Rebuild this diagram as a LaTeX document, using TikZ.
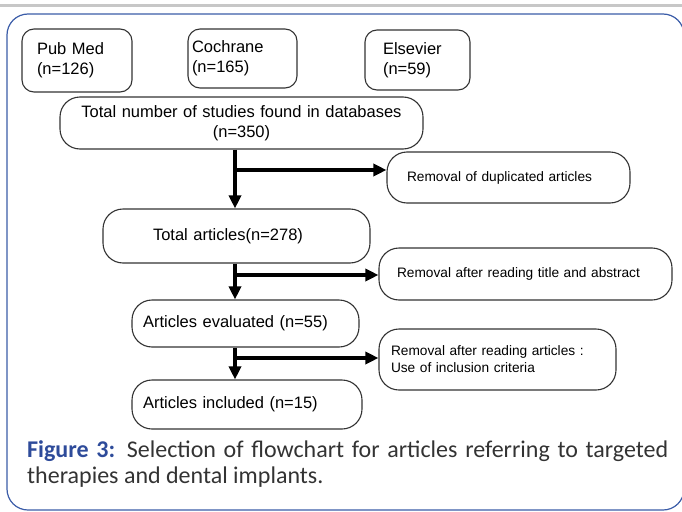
\documentclass[tikz,border=0pt]{standalone}
\usepackage{fontspec}
\setmainfont{Liberation Sans}
\newfontfamily\capfont{Carlito}
\usetikzlibrary{arrows.meta}

\definecolor{frameblue}{HTML}{3A5CA8}
\definecolor{capblue}{HTML}{2E4B9A}
\definecolor{captext}{HTML}{333333}

\begin{document}
\begin{tikzpicture}[x=1pt,y=-1pt]

\tikzset{box/.style = {draw=black!80, line width=1.1pt, rounded corners=20pt, align=left, inner ysep=0pt, font=\fontsize{16.5pt}{20pt}\selectfont}}
\tikzset{source/.style = {box, rounded corners=12pt}}
\tikzset{removal/.style = {box, font=\fontsize{13.7pt}{17pt}\selectfont}}
\tikzset{flow/.style = {line width=3.5pt, -{Triangle[length=13pt,width=12pt]}}}

\useasboundingbox (0,0) rectangle (682,511);
%frame
\draw[black!22, line width=3pt] (0,5.5) -- (682,5.5);
\draw[frameblue, line width=1.2pt, rounded corners=21pt] (7,14) rectangle (684,510);
%databases
\node[source, minimum height=63pt, text width=80pt, inner xsep=15pt] (pubmed) at (77,60.5) {Pub Med\\(n=126)};
\node[source, minimum height=59pt, text width=101pt, inner xsep=4pt] (cochrane) at (242.5,58.5) {Cochrane\\(n=165)};
\node[source, minimum height=60pt, text width=69pt, inner xsep=18pt] (elsevier) at (417.5,60) {Elsevier\\(n=59)};
%selection steps
\node[box, align=center, minimum height=52pt, text width=343pt, inner xsep=10pt] (total) at (241.5,123) {Total number of studies found in databases\\(n=350)};
\node[box, minimum height=54pt, text width=167pt, inner xsep=50pt] (articles) at (236.5,236) {Total articles(n=278)};
\node[box, minimum height=47pt, text width=205pt, inner xsep=11pt] (evaluated) at (245.5,323.5) {Articles evaluated (n=55)};
\node[box, minimum height=49pt, text width=208pt, inner xsep=11pt] (included) at (247,404.5) {Articles included (n=15)};
%removals
\node[removal, minimum height=51pt, text width=203pt, inner xsep=20pt] (dup) at (508.5,177.5) {Removal of duplicated articles};
\node[removal, minimum height=52pt, text width=257pt, inner xsep=18pt] (title) at (525.5,274) {Removal after reading title and abstract};
\node[removal, minimum height=61pt, text width=213pt, inner xsep=12pt] (reading) at (497.5,359.5) {Removal after reading articles :\\Use of inclusion criteria};
%junctions
\coordinate (j1) at (235,170);
\coordinate (j2) at (235,275);
\coordinate (j3) at (235,358);
%arrows
\draw[flow] (total.south -| j1) -- (articles.north -| j1);
\draw[flow] (articles.south -| j2) -- (evaluated.north -| j2);
\draw[flow] (evaluated.south -| j3) -- (included.north -| j3);
\draw[flow] ([xshift=-1.75pt]j1) -- (j1 -| dup.west);
\draw[flow] ([xshift=-1.75pt]j2) -- (j2 -| title.west);
\draw[flow] ([xshift=-1.75pt]j3) -- (j3 -| reading.west);
%caption
\node[anchor=north west, inner sep=0pt, text width=641pt, align=justify, text=captext, font=\capfont\fontsize{24pt}{26pt}\selectfont] (caption) at (27,440)
  {\hyphenpenalty=10000 \textcolor{capblue}{\textbf{Figure 3:}} Selection of flowchart for articles referring to targeted therapies and dental implants.};

\end{tikzpicture}
\end{document}
